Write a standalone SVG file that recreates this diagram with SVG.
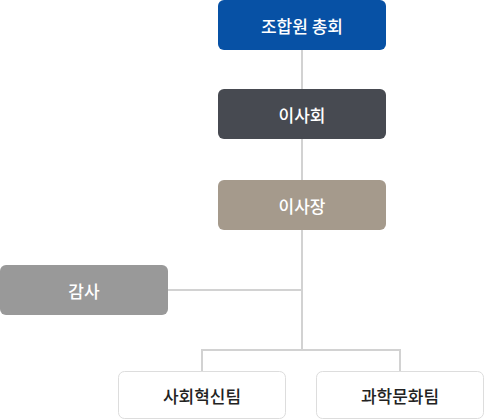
<svg xmlns="http://www.w3.org/2000/svg" width="484" height="420" viewBox="0 0 484 420">
<style>
.t{font-family:"Noto Sans CJK KR","Noto Sans",sans-serif;font-size:17px;font-weight:500;text-anchor:middle;dominant-baseline:central}
.w{fill:#ffffff}
.k{fill:#222222}
.c{stroke:#d2d2d2;stroke-width:2;fill:none}
</style>
<rect width="484" height="420" fill="#ffffff"/>
<g id="connectors">
<path class="c" d="M302 50V349M168 290H302M202 371V350H400V371"/>
</g>
<g id="n1"><rect x="218" y="0" width="168" height="50" rx="6" fill="#0751a5"/><text class="t w" x="302" y="25">조합원 총회</text></g>
<g id="n2"><rect x="218" y="89" width="168" height="50" rx="6" fill="#474a51"/><text class="t w" x="302" y="114">이사회</text></g>
<g id="n3"><rect x="218" y="180" width="168" height="50" rx="6" fill="#a59a8c"/><text class="t w" x="302" y="205">이사장</text></g>
<g id="n4"><rect x="0" y="265" width="168" height="50" rx="6" fill="#999999"/><text class="t w" x="84" y="290">감사</text></g>
<g id="n5"><rect x="118.5" y="371.5" width="167" height="47" rx="6" fill="#ffffff" stroke="#dddddd"/><text class="t k" x="202" y="395">사회혁신팀</text></g>
<g id="n6"><rect x="316.5" y="371.5" width="167" height="47" rx="6" fill="#ffffff" stroke="#dddddd"/><text class="t k" x="400" y="395">과학문화팀</text></g>
</svg>
